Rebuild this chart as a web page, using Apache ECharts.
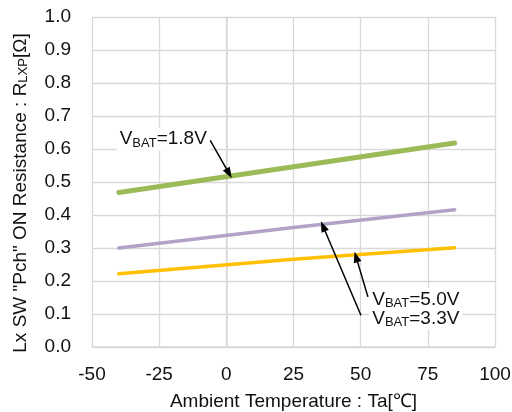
<!DOCTYPE html>
<html>
<head>
<meta charset="utf-8">
<script src="https://cdn.jsdelivr.net/npm/echarts@6/dist/echarts.min.js"></script>
<style>
  html, body { margin: 0; padding: 0; background: #fff; }
  #chart { width: 512px; height: 412px; }
</style>
</head>
<body>
<div id="chart"></div>
<script>
// temperatures (degC) where values were read
const temps = [-40, 25, 85];
// Pch ON resistance (ohm) per VBAT
const r18 = [0.468, 0.546, 0.618];
const r50 = [0.300, 0.362, 0.416];
const r33 = [0.222, 0.266, 0.301];

const xTicks = { min: -50, max: 100, step: 25 };
const yTicks = { min: 0, max: 1, step: 0.1 };

// annotation arrows: [from, to] in data units
const arrow18 = [[-6, 0.626], [1, 0.526]];
const arrowA = [[52.7, 0.152], [48.3, 0.273]];
const arrowB = [[50.1, 0.096], [36.0, 0.366]];
// annotation label anchors (left-middle of text) in data units
const label18 = [-41, 0.630];
const labelA = [53, 0.144];
const labelB = [53, 0.086];

const FONT = '"Liberation Sans", Arial, sans-serif';
const TXT = '#111';
const GRIDC = '#d9d9d9';

const pairs = (ys) => temps.map((t, i) => [t, ys[i]]);

const subRich = {
  v: { fontSize: 19, fontFamily: FONT, color: TXT, lineHeight: 21 },
  s: { fontSize: 13, fontFamily: FONT, color: TXT, lineHeight: 9, verticalAlign: 'bottom' }
};

const vbatLabel = (coord, volt) => ({
  coord: coord,
  symbol: 'rect',
  symbolSize: 1,
  itemStyle: { color: 'rgba(0,0,0,0)' },
  label: {
    show: true,
    position: 'right',
    distance: 0,
    formatter: '{v|V}{s|BAT}{v|=' + volt + '}',
    backgroundColor: '#fff',
    padding: [1, 3, 1, 3],
    rich: subRich
  }
});

const arrowLine = (a) => [
  { coord: a[0], symbol: 'none' },
  { coord: a[1], symbol: 'triangle', symbolSize: [8, 11] }
];

const chart = echarts.init(document.getElementById('chart'));

const option = {
  animation: false,
  grid: { left: 92, right: 17, top: 17, bottom: 65, containLabel: false, outerBoundsMode: 'none' },
  xAxis: {
    type: 'value',
    min: xTicks.min,
    max: xTicks.max,
    interval: xTicks.step,
    name: 'Ambient Temperature : Ta[℃]',
    nameLocation: 'middle',
    nameGap: 45,
    nameTextStyle: { fontSize: 19, fontFamily: FONT, color: TXT },
    axisLine: { show: true, lineStyle: { color: GRIDC, width: 1.5 } },
    axisTick: { show: false },
    axisLabel: { fontSize: 19, fontFamily: FONT, color: TXT, margin: 18 },
    splitLine: { show: true, lineStyle: { color: GRIDC, width: 1.3 } }
  },
  yAxis: {
    type: 'value',
    min: yTicks.min,
    max: yTicks.max,
    interval: yTicks.step,
    name: 'Lx SW "Pch" ON Resistance : R{s|LXP}[Ω]',
    nameLocation: 'middle',
    nameRotate: 90,
    nameGap: 62,
    nameTextStyle: { fontSize: 19, fontFamily: FONT, color: TXT, rich: subRich, padding: [0, 22, 0, 0] },
    axisLine: { show: true, lineStyle: { color: GRIDC, width: 1.5 } },
    axisTick: { show: false },
    axisLabel: {
      fontSize: 19, fontFamily: FONT, color: TXT, margin: 21, padding: [8, 0, 0, 0],
      formatter: (v) => v.toFixed(1)
    },
    splitLine: { show: true, lineStyle: { color: GRIDC, width: 1.3 } }
  },
  series: [
    {
      name: 'VBAT=5.0V',
      type: 'line',
      data: pairs(r50),
      symbol: 'none',
      lineStyle: { color: '#b3a2c7', width: 3.5, cap: 'round' },
      z: 3
    },
    {
      name: 'VBAT=3.3V',
      type: 'line',
      data: pairs(r33),
      symbol: 'none',
      lineStyle: { color: '#ffc000', width: 3.5, cap: 'round' },
      z: 3
    },
    {
      name: 'VBAT=1.8V',
      type: 'line',
      data: pairs(r18),
      symbol: 'none',
      lineStyle: { color: '#9bbb59', width: 5, cap: 'round' },
      z: 3,
      markLine: {
        silent: true,
        animation: false,
        label: { show: false },
        lineStyle: { color: '#000', width: 1.5, type: 'solid' },
        data: [arrowLine(arrow18), arrowLine(arrowA), arrowLine(arrowB)]
      },
      markPoint: {
        silent: true,
        animation: false,
        data: [vbatLabel(label18, '1.8V'), vbatLabel(labelA, '5.0V'), vbatLabel(labelB, '3.3V')]
      }
    }
  ]
};

chart.setOption(option);
</script>
</body>
</html>
